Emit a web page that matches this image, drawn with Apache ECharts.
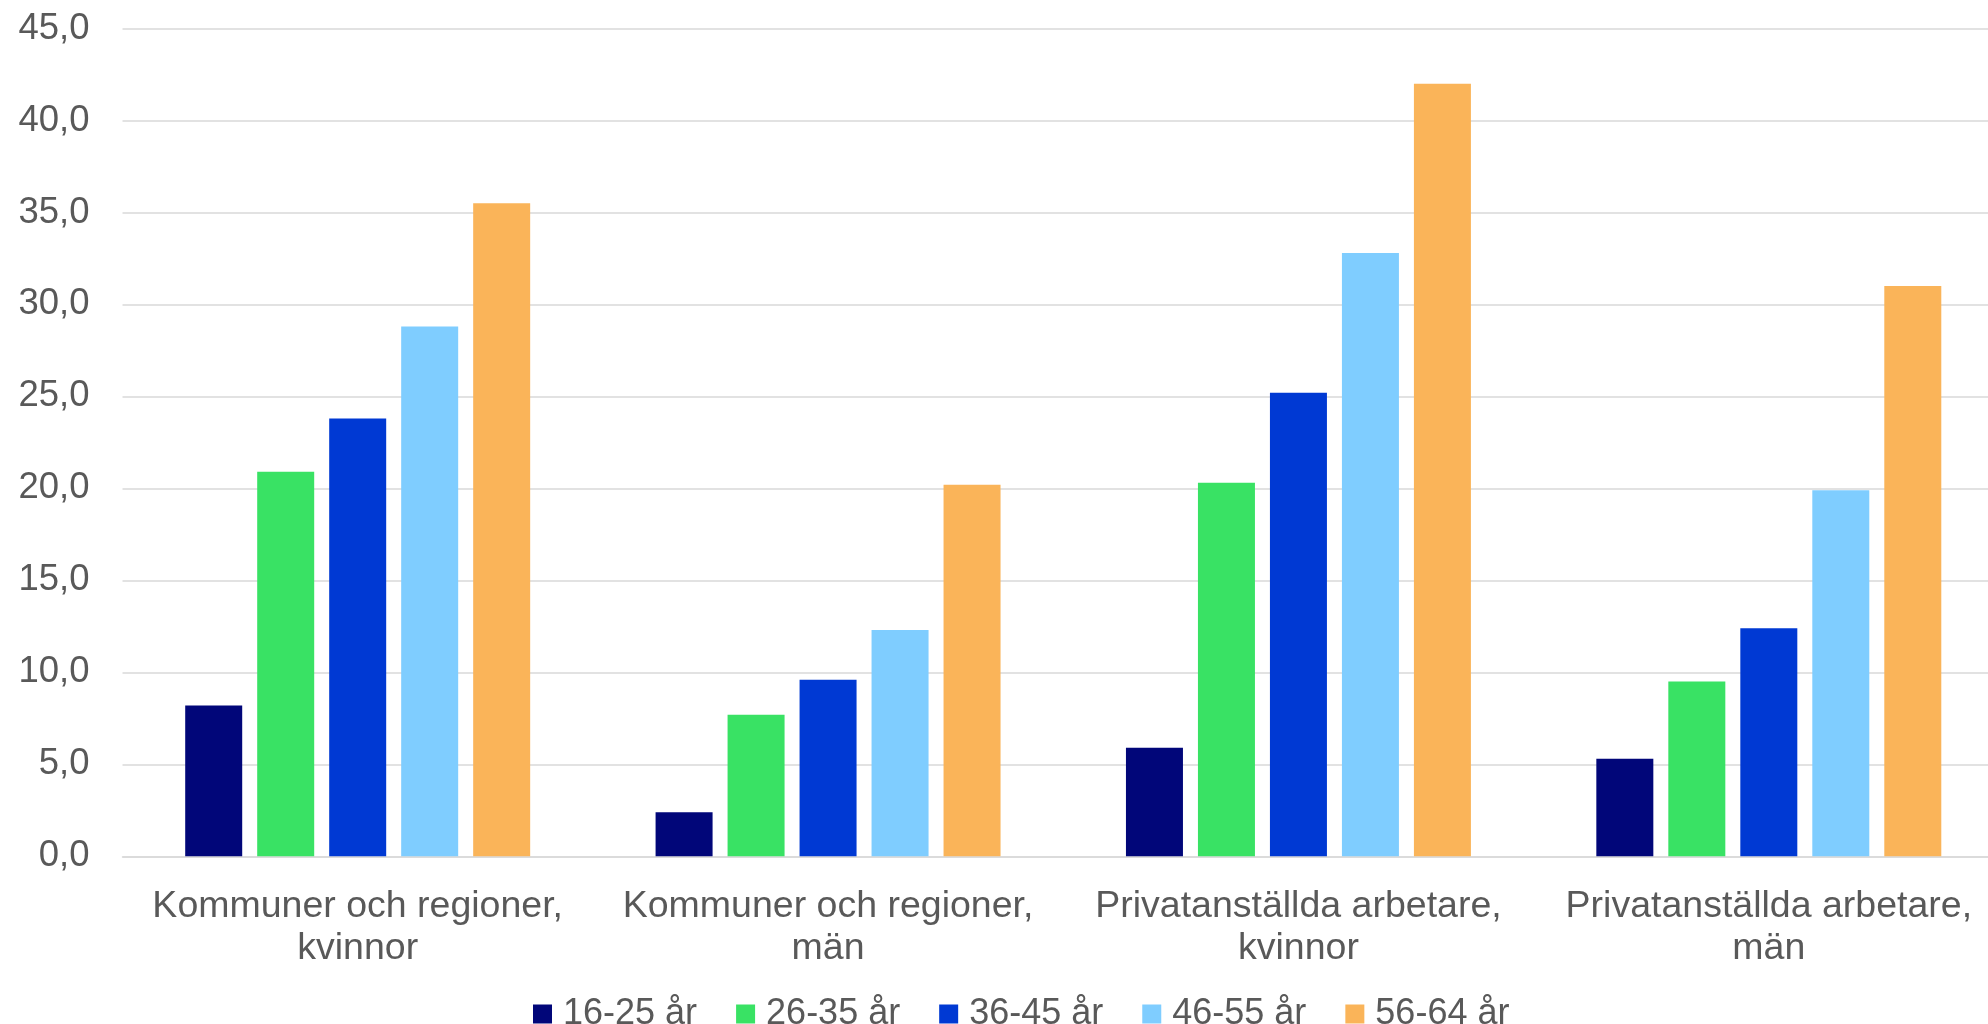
<!DOCTYPE html>
<html>
<head>
<meta charset="utf-8">
<style>
  html, body { margin: 0; padding: 0; background: #ffffff; overflow: hidden; }
  #chart { width: 2004px; height: 1024px; }
</style>
<script src="https://cdn.jsdelivr.net/npm/echarts@6/dist/echarts.min.js"></script>
</head>
<body>
<div id="chart"></div>
<script>
const categories = [
  'Kommuner och regioner,\nkvinnor',
  'Kommuner och regioner,\nmän',
  'Privatanställda arbetare,\nkvinnor',
  'Privatanställda arbetare,\nmän'
];
const seriesNames = ['16-25 år', '26-35 år', '36-45 år', '46-55 år', '56-64 år'];
const age16_25 = [8.2, 2.4, 5.9, 5.3];
const age26_35 = [20.9, 7.7, 20.3, 9.5];
const age36_45 = [23.8, 9.6, 25.2, 12.4];
const age46_55 = [28.8, 12.3, 32.8, 19.9];
const age56_64 = [35.5, 20.2, 42.0, 31.0];
const seriesValues = [age16_25, age26_35, age36_45, age46_55, age56_64];
const colors = ['#010679', '#39E264', '#0039D3', '#7FCDFF', '#FAB459'];

const fontFamily = 'Arial, "Liberation Sans", sans-serif';
const textColor = '#595959';

const chart = echarts.init(document.getElementById('chart'), null, { renderer: 'canvas' });

chart.setOption({
  animation: false,
  backgroundColor: '#ffffff',
  textStyle: { fontFamily: fontFamily },
  grid: {
    left: 122.5,
    top: 28.5,
    right: 0,
    bottom: 167.7,
    containLabel: false
  },
  legend: {
    data: seriesNames,
    left: 528,
    top: 991,
    itemWidth: 19,
    itemHeight: 19,
    itemGap: 39,
    icon: 'rect',
    textStyle: {
      fontSize: 36,
      lineHeight: 36,
      color: textColor,
      fontFamily: fontFamily,
      padding: [0, 0, 0, 6]
    }
  },
  xAxis: {
    type: 'category',
    data: categories,
    axisLine: { show: true, lineStyle: { color: '#D9D9D9', width: 1.5 } },
    axisTick: { show: false },
    axisLabel: {
      fontSize: 37.5,
      lineHeight: 42,
      color: textColor,
      fontFamily: fontFamily,
      margin: 29,
      interval: 0
    }
  },
  yAxis: {
    type: 'value',
    min: 0,
    max: 45,
    interval: 5,
    axisLine: { show: false },
    axisTick: { show: false },
    splitLine: { lineStyle: { color: '#D9D9D9', width: 1.5 } },
    axisLabel: {
      fontSize: 36.5,
      color: textColor,
      fontFamily: fontFamily,
      margin: 33,
      formatter: function (v) { return v.toFixed(1).replace('.', ','); }
    }
  },
  series: seriesNames.map(function (name, i) {
    return {
      name: name,
      type: 'bar',
      data: seriesValues[i],
      barWidth: 57,
      barGap: '26.3%',
      itemStyle: { color: colors[i] }
    };
  })
});
</script>
</body>
</html>
